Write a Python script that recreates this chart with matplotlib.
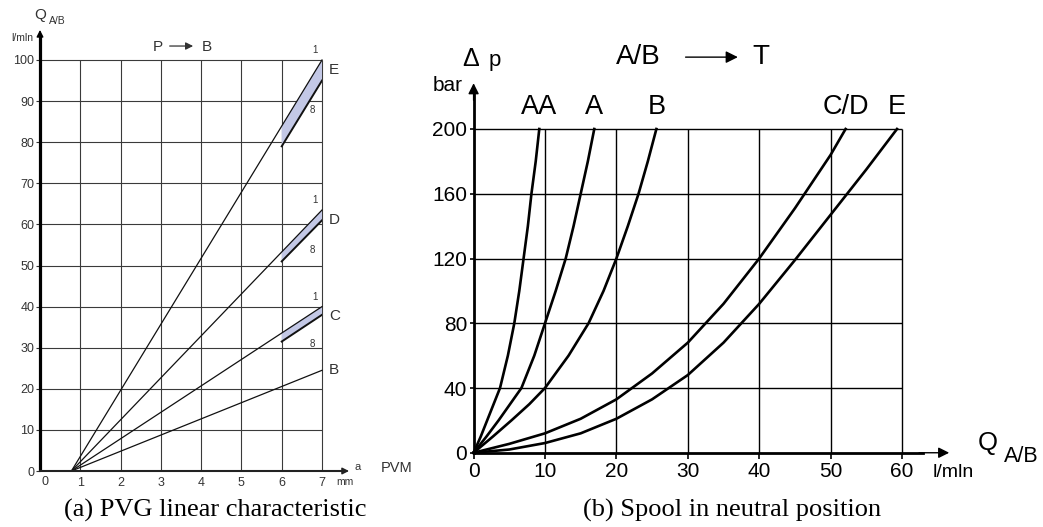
import matplotlib
matplotlib.use("Agg")
import matplotlib.pyplot as plt
import numpy as np

plt.rcParams['font.family'] = ['Liberation Sans', 'DejaVu Sans']

# --- (a) PVG linear characteristic: flow Q vs spool travel a ---
a_start = 0.78          # travel where flow begins (mm)
a_end = 7.0
a_band = 6.0            # where the 1..8 spread starts
spools_a = ['B', 'C', 'D', 'E']
q_max_1 = [24.5, 40.0, 63.5, 100.0]      # flow at full travel, curve 1
q_band_8 = [None, (31.5, 38.0), (51.0, 61.0), (79.0, 95.0)]  # curve 8 at a=6 and a=7
x_ticks_a = [1, 2, 3, 4, 5, 6, 7]
y_ticks_a = list(range(0, 101, 10))

# --- (b) Spool in neutral position: pressure drop vs flow ---
spools_b = ['AA', 'A', 'B', 'C/D', 'E']
dp_steep = [0, 10, 20, 30, 40, 60, 80, 100, 120, 140, 160, 180, 200]
q_AA = [0, 1.0, 1.9, 2.8, 3.7, 4.8, 5.7, 6.4, 7.0, 7.6, 8.1, 8.7, 9.2]
q_A = [0, 1.8, 3.5, 5.1, 6.7, 8.5, 10.0, 11.5, 12.9, 14.0, 15.0, 16.0, 16.9]
q_B = [0, 2.7, 5.3, 7.8, 10.0, 13.3, 16.1, 18.2, 20.0, 21.6, 23.1, 24.4, 25.6]
q_CD = [0, 5, 10, 15, 20, 25, 30, 35, 40, 45, 50, 52.1]
dp_CD = [0, 5.5, 12, 21, 33, 49, 68, 92, 120, 151, 184, 200]
q_E = [0, 5, 10, 15, 20, 25, 30, 35, 40, 45, 50, 55, 59.3]
dp_E = [0, 2, 6, 12, 21, 33, 48, 68, 92, 119, 147, 175, 200]
x_ticks_b = [0, 10, 20, 30, 40, 50, 60]
y_ticks_b = [0, 40, 80, 120, 160, 200]

W, H = 1043, 527
fig = plt.figure(figsize=(W / 100, H / 100), dpi=100)
fig.patch.set_facecolor('white')

band_col = '#c3c8e6'
grey_txt = '#333333'

# ================= left chart =================
ax1 = fig.add_axes([40 / W, (H - 471) / H, 282 / W, 411 / H])
ax1.set_xlim(0, 7)
ax1.set_ylim(0, 100)
for s in ['top', 'right', 'left', 'bottom']:
    ax1.spines[s].set_visible(False)

ax1.vlines(x_ticks_a, 0, 100, colors='#3a3a3a', lw=0.8, zorder=1, clip_on=False)
ax1.hlines(y_ticks_a[1:], 0, 7, colors='#3a3a3a', lw=0.8, zorder=1, clip_on=False)

for name, q1, band in zip(spools_a, q_max_1, q_band_8):
    ax1.plot([a_start, a_end], [0, q1], color='#111111', lw=0.9, zorder=3, clip_on=False)
    y_lab = q1
    if band is not None:
        q1_at6 = q1 * (a_band - a_start) / (a_end - a_start)
        ax1.fill([a_band, a_end, a_end, a_band], [q1_at6, q1, band[1], band[0]],
                 color=band_col, zorder=2, lw=0)
        ax1.plot([a_band, a_end], [band[0], band[1]], color='#111111', lw=1.4, zorder=3)
        ax1.text(6.82, q1 + 2.4, '1', fontsize=7, color=grey_txt, ha='center', va='center')
        ax1.text(6.77, band[1] - 7.2, '8', fontsize=7, color=grey_txt, ha='center', va='center')
        y_lab = q1 - 2.4
    ax1.text(7.17, y_lab, name, fontsize=11, color=grey_txt, ha='left', va='center', clip_on=False)

# axes with arrows
ax1.plot([0, 0], [0, 106], color='black', lw=2.3, clip_on=False, zorder=4,
         solid_capstyle='butt')
ax1.annotate('', xy=(0, 108), xytext=(0, 104),
             arrowprops=dict(arrowstyle='-|>', color='black', lw=1, mutation_scale=10),
             annotation_clip=False)
ax1.plot([0, 7.5], [0, 0], color='#222222', lw=1.5, clip_on=False, zorder=4)
ax1.annotate('', xy=(7.74, 0), xytext=(7.4, 0),
             arrowprops=dict(arrowstyle='-|>', color='#222222', lw=1, mutation_scale=10),
             annotation_clip=False)

ax1.set_xticks(x_ticks_a)
ax1.set_xticklabels([str(v) for v in x_ticks_a])
ax1.set_yticks(y_ticks_a)
ax1.set_yticklabels([str(v) for v in y_ticks_a])
ax1.tick_params(axis='x', length=0, pad=4.5, labelsize=9, labelcolor=grey_txt)
ax1.tick_params(axis='y', length=3, width=0.8, pad=1, labelsize=9, labelcolor=grey_txt,
                color='#333333')
ax1.text(0.12, -2.6, '0', fontsize=9, color=grey_txt, ha='center', va='center')

ax1.text(0.0, 111, 'Q', fontsize=11, color=grey_txt, ha='center', va='center', clip_on=False)
ax1.text(0.43, 109.6, 'A/B', fontsize=7.5, color=grey_txt, ha='center', va='center', clip_on=False)
ax1.text(-0.45, 105.4, 'l/mln', fontsize=7.5, color=grey_txt, ha='center', va='center', clip_on=False)
ax1.text(2.93, 103.2, 'P', fontsize=11, color=grey_txt, ha='center', va='center', clip_on=False)
ax1.annotate('', xy=(3.87, 103.4), xytext=(3.15, 103.4),
             arrowprops=dict(arrowstyle='-|>', color=grey_txt, lw=0.9, mutation_scale=11),
             annotation_clip=False)
ax1.text(4.14, 103.2, 'B', fontsize=11, color=grey_txt, ha='center', va='center', clip_on=False)
ax1.text(7.89, 1.0, 'a', fontsize=8, color=grey_txt, ha='center', va='center', clip_on=False)
ax1.text(7.57, -2.6, 'mm', fontsize=7.5, color=grey_txt, ha='center', va='center', clip_on=False)
ax1.text(8.86, 0.8, 'PVM', fontsize=10.5, color=grey_txt, ha='center', va='center', clip_on=False)

# ================= right chart =================
ax2 = fig.add_axes([473.6 / W, (H - 452.75) / H, 428.4 / W, 323.75 / H])
ax2.set_xlim(0, 60)
ax2.set_ylim(0, 200)
for s in ['top', 'right', 'left', 'bottom']:
    ax2.spines[s].set_visible(False)

ax2.vlines(x_ticks_b[1:], 0, 200, colors='black', lw=1.0, zorder=1, clip_on=False)
ax2.hlines(y_ticks_b[1:], 0, 60, colors='black', lw=1.0, zorder=1, clip_on=False)

curves = [(q_AA, dp_steep), (q_A, dp_steep), (q_B, dp_steep), (q_CD, dp_CD), (q_E, dp_E)]
for (q, dp), name in zip(curves, spools_b):
    ax2.plot(q, dp, color='black', lw=1.9, zorder=3, clip_on=False,
             solid_joinstyle='round')
    ax2.text(q[-1], 213.5, name, fontsize=19.5, ha='center', va='center', clip_on=False)

ax2.plot([0, 0], [0, 222], color='black', lw=2.0, clip_on=False, zorder=4)
ax2.annotate('', xy=(0, 230), xytext=(0, 216),
             arrowprops=dict(arrowstyle='-|>', color='black', lw=1, mutation_scale=16),
             annotation_clip=False)
ax2.plot([0, 63], [0, 0], color='black', lw=2.0, clip_on=False, zorder=4)
ax2.annotate('', xy=(67, 0), xytext=(62, 0),
             arrowprops=dict(arrowstyle='-|>', color='black', lw=1, mutation_scale=16),
             annotation_clip=False)

ax2.set_xticks(x_ticks_b)
ax2.set_xticklabels([str(v) for v in x_ticks_b])
ax2.set_yticks(y_ticks_b)
ax2.set_yticklabels([str(v) for v in y_ticks_b])
ax2.tick_params(axis='x', length=4, width=1.2, pad=3, labelsize=15)
ax2.tick_params(axis='y', length=3, width=1.2, pad=1.5, labelsize=15)

ax2.text(64.3, -11.9, 'l/mln', fontsize=14, ha='left', va='center', clip_on=False)
ax2.text(72.0, 6.0, 'Q', fontsize=18.5, ha='center', va='center', clip_on=False)
ax2.text(76.7, -2.6, 'A/B', fontsize=15.5, ha='center', va='center', clip_on=False)
ax2.text(-0.4, 239.0, '\u0394', fontsize=18, ha='center', va='baseline', clip_on=False)
ax2.text(3.0, 239.0, 'p', fontsize=16, ha='center', va='baseline', clip_on=False)
ax2.text(-3.6, 227, 'bar', fontsize=15, ha='center', va='center', clip_on=False)
ax2.text(23.1, 244.4, 'A/B', fontsize=20, ha='center', va='center', clip_on=False)
ax2.annotate('', xy=(37.4, 244.4), xytext=(29.3, 244.4),
             arrowprops=dict(arrowstyle='-|>', color='black', lw=1.0, mutation_scale=18),
             annotation_clip=False)
ax2.text(40.2, 244.4, 'T', fontsize=20, ha='center', va='center', clip_on=False)

# ================= captions =================
fig.text(215 / W, 1 - 510 / H, '(a) PVG linear characteristic', fontsize=19,
         family='Liberation Serif', ha='center', va='center')
fig.text(732 / W, 1 - 510 / H, '(b) Spool in neutral position', fontsize=19,
         family='Liberation Serif', ha='center', va='center')

fig.savefig('out.png', dpi=100, facecolor='white')
